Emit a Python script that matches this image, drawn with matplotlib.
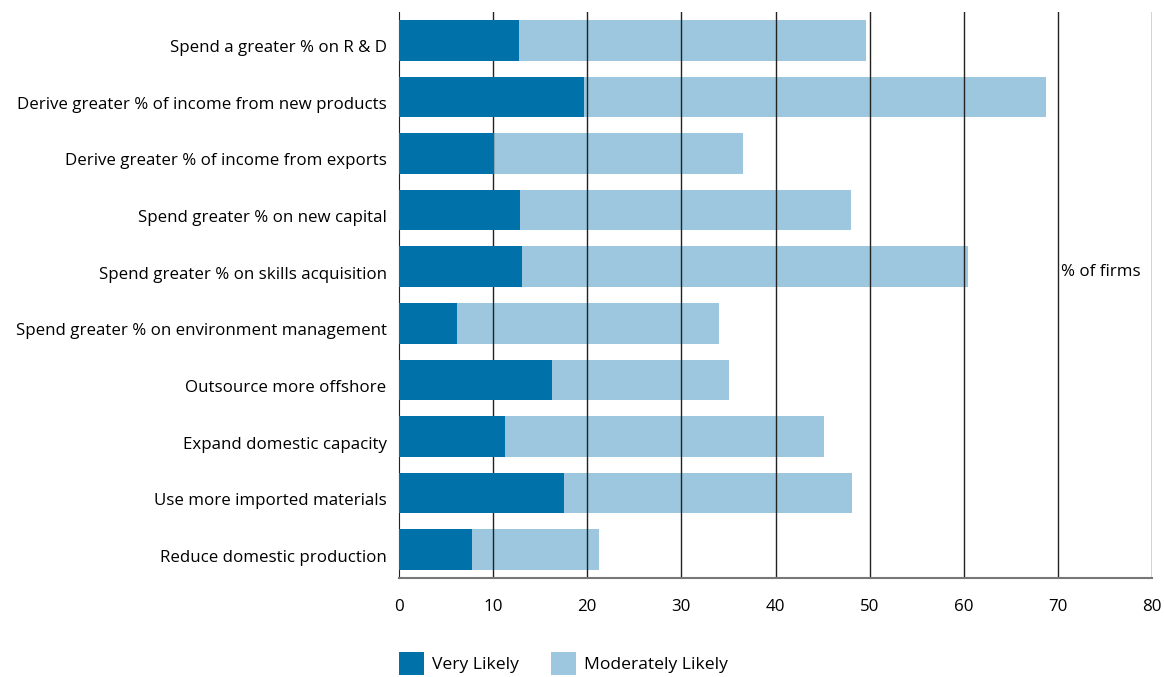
import matplotlib
matplotlib.use('Agg')
import matplotlib.pyplot as plt
import matplotlib.transforms as mtransforms
import numpy as np

categories = [
    'Spend a greater % on R & D',
    'Derive greater % of income from new products',
    'Derive greater % of income from exports',
    'Spend greater % on new capital',
    'Spend greater % on skills acquisition',
    'Spend greater % on environment management',
    'Outsource more offshore',
    'Expand domestic capacity',
    'Use more imported materials',
    'Reduce domestic production',
]
very_likely = [12.8, 19.6, 10.1, 12.9, 13.1, 6.2, 16.3, 11.3, 17.5, 7.8]
total_likely = [49.6, 68.7, 36.5, 48.0, 60.5, 34.0, 35.1, 45.2, 48.1, 21.2]
moderately_likely = [t - v for t, v in zip(total_likely, very_likely)]
x_ticks = [0, 10, 20, 30, 40, 50, 60, 70, 80]

plt.rcParams['font.family'] = ['Open Sans', 'DejaVu Sans']

dark = '#0072a9'
light = '#9cc7de'
fs = 12.2

fig = plt.figure(figsize=(11.64, 6.77), dpi=100)
ax = fig.add_axes([0.3428, 0.1462, 0.9897 - 0.3428, 0.9823 - 0.1462])

y = np.arange(len(categories))
ax.barh(y, very_likely, height=0.72, color=dark, zorder=3, label='Very Likely')
ax.barh(y, moderately_likely, left=very_likely, height=0.72, color=light,
        zorder=1, label='Moderately Likely')

# vertical grid lines over the light bars, under the dark ones
for t in x_ticks[1:]:
    ax.axvline(t, color='#222222', linewidth=1.0, zorder=2)

ax.set_xlim(0, 80)
ax.set_ylim(len(categories) - 0.5, -0.5)
ax.set_xticks(x_ticks)
ax.set_yticks(y)
ax.set_yticklabels(categories)
ax.tick_params(axis='y', length=0, pad=9, labelsize=fs)
ax.tick_params(axis='x', length=0, pad=15, labelsize=fs)

# labels sit a little below the bar centres in the original
shift = mtransforms.ScaledTranslation(0, -6 / 100, fig.dpi_scale_trans)
for lab in ax.get_yticklabels():
    lab.set_transform(lab.get_transform() + shift)

for s in ['top', 'right']:
    ax.spines[s].set_visible(False)
ax.spines['left'].set_color('#222222')
ax.spines['bottom'].set_color('#777777')
ax.spines['bottom'].set_linewidth(1.5)

ax.text(70.3, 4.1, '% of firms', va='center', ha='left', fontsize=fs)

fig.legend(loc='upper left', bbox_to_anchor=(0.3428, 0.0369), ncol=2,
           frameon=False, fontsize=12.6, handlelength=1.45, handleheight=1.6,
           columnspacing=1.8, handletextpad=0.45, borderpad=0, borderaxespad=0)

fig.savefig('out.png', dpi=100)
